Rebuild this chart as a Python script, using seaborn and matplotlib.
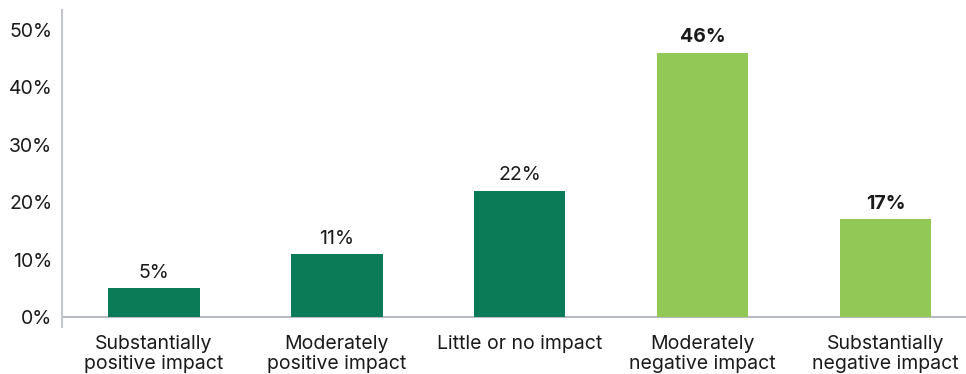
import matplotlib
matplotlib.use("Agg")
import matplotlib.pyplot as plt
import seaborn as sns
import pandas as pd

categories = [
    "Substantially\npositive impact",
    "Moderately\npositive impact",
    "Little or no impact",
    "Moderately\nnegative impact",
    "Substantially\nnegative impact",
]
values = [5, 11, 22, 46, 17]
value_labels = ["5%", "11%", "22%", "46%", "17%"]
bold_labels = [False, False, False, True, True]
y_ticks = [0, 10, 20, 30, 40, 50]
y_tick_labels = ["0%", "10%", "20%", "30%", "40%", "50%"]

DARK_GREEN = "#0b7a57"
LIGHT_GREEN = "#92c956"
bar_colors = [DARK_GREEN, DARK_GREEN, DARK_GREEN, LIGHT_GREEN, LIGHT_GREEN]

sns.set_style("white")
plt.rcParams["font.family"] = ["Inter", "DejaVu Sans"]

df = pd.DataFrame({"category": categories, "value": values})

fig = plt.figure(figsize=(9.66, 3.74), dpi=100)
ax = fig.add_axes([62 / 966, 47 / 374, 1 - 62 / 966, (327 - 10) / 374])

sns.barplot(data=df, x="category", y="value", hue="category",
            palette=bar_colors, legend=False, width=0.5, saturation=1,
            linewidth=0, ax=ax)

ax.set_xlim(-0.503, 4.44)
ax.set_ylim(-1.74, 53.4)
ax.axhline(0, color="#b9bcc2", lw=1.5, zorder=0.5)

for spine in ["top", "right", "bottom"]:
    ax.spines[spine].set_visible(False)
ax.spines["left"].set_color("#c3c6cc")
ax.spines["left"].set_linewidth(1.5)

ax.set_yticks(y_ticks)
ax.set_yticklabels(y_tick_labels, fontsize=14, color="#1a1a1a")
ax.tick_params(axis="y", length=0, pad=7)
ax.tick_params(axis="x", length=0, pad=6, labelsize=14, labelcolor="#1a1a1a")
for lbl in ax.get_xticklabels():
    lbl.set_linespacing(1.1)
ax.set_xlabel("")
ax.set_ylabel("")

for i, (v, txt, b) in enumerate(zip(values, value_labels, bold_labels)):
    ax.annotate(txt, xy=(i, v), xytext=(0, 4.5), textcoords="offset points",
                ha="center", va="bottom", fontsize=14, color="#1a1a1a",
                fontweight="bold" if b else "normal")

fig.savefig("out.png", dpi=100)
